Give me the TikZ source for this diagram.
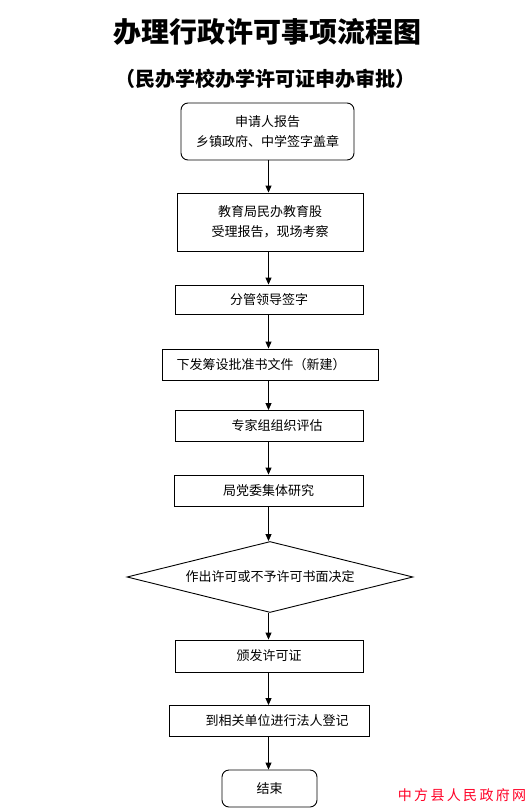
\documentclass[tikz,border=0pt]{standalone}
\usepackage{fontspec}
\setmainfont{Noto Sans CJK SC}
\newfontfamily\cjk{Noto Sans CJK SC}
\usetikzlibrary{shapes.geometric,arrows.meta}
\begin{document}
\begin{tikzpicture}[x=1pt,y=-1pt,
  box/.style={draw=black,line width=0.9pt,inner sep=0pt,align=center,font=\cjk\fontsize{13}{20}\selectfont},
  rbox/.style={box,rounded corners=7pt},
  dia/.style={box,shape=diamond,aspect=4},
  arr/.style={line width=0.9pt,-{Triangle[length=7pt,width=6pt]}}]
\useasboundingbox (0,0) rectangle (531,808);
\fill[white] (0,0) rectangle (531,808);
\node (title) at (267,32) {\cjk\bfseries\fontsize{28}{32}\selectfont 办理行政许可事项流程图};
\node (sub) at (265,79) {\cjk\bfseries\fontsize{20}{23}\selectfont （民办学校办学许可证申办审批）};
\node[rbox,minimum width=173pt,minimum height=57pt] (n1) at (267.5,131.5) {申请人报告\\乡镇政府、中学签字盖章};
\node[box,minimum width=186pt,minimum height=58pt] (n2) at (270,222) {教育局民办教育股\\受理报告，现场考察};
\node[box,minimum width=188pt,minimum height=29pt] (n3) at (269,299.5) {分管领导签字};
\node[box,minimum width=216pt,minimum height=31pt] (n4) at (270,364.5) {下发筹设批准书文件（新建）\hspace*{18pt}};
\node[box,minimum width=188pt,minimum height=31pt] (n5) at (269,426) {\hspace*{16pt}专家组组织评估};
\node[box,minimum width=189pt,minimum height=31pt] (n6) at (268.5,490.5) {局党委集体研究};
\node[dia,minimum width=286pt,minimum height=71pt] (n7) at (270,577) {作出许可或不予许可书面决定};
\node[box,minimum width=188pt,minimum height=32pt] (n8) at (269,656) {颁发许可证};
\node[box,minimum width=200pt,minimum height=31pt] (n9) at (269,721) {\hspace*{16pt}到相关单位进行法人登记};
\node[rbox,minimum width=95pt,minimum height=37pt] (n10) at (269.5,788.5) {结束};
\coordinate (ax) at (268.5,0);
\foreach \a/\b in {n1/n2,n2/n3,n3/n4,n4/n5,n5/n6,n6/n7,n7/n8,n8/n9,n9/n10}
  \draw[arr] (\a.south -| ax) -- (\b.north -| ax);
\node[text=red!85!magenta,font=\cjk\fontsize{14}{16}\selectfont,inner sep=0pt] (wm) at (462,795) {中\,方\,县\,人\,民\,政\,府\,网};
\end{tikzpicture}
\end{document}
